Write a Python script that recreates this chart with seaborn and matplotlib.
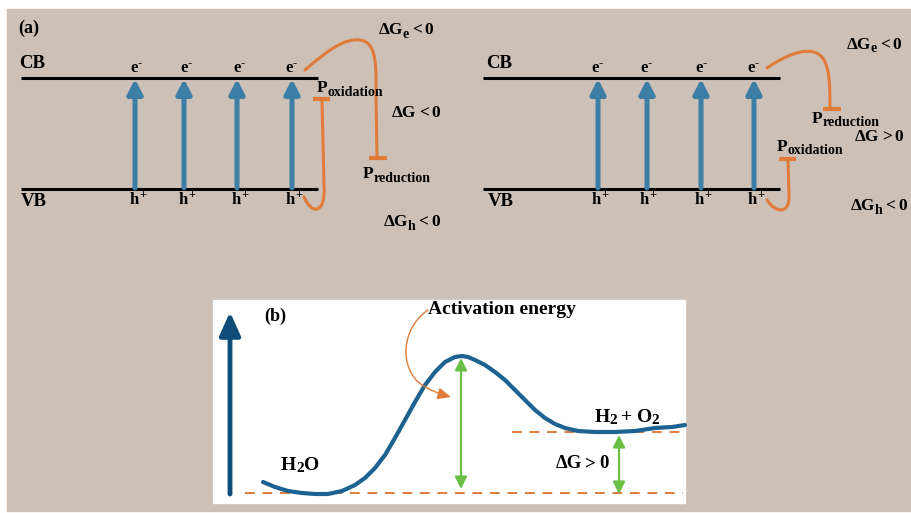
import numpy as np
import pandas as pd
import matplotlib
matplotlib.use("Agg")
import matplotlib.pyplot as plt
from matplotlib.patches import Rectangle, PathPatch, FancyArrowPatch
from matplotlib.path import Path
import seaborn as sns

# ---- values (pixel units, y down) ----
band_y = {"CB": 78, "VB": 189}
left_band_x = (21, 318)
right_band_x = (483, 780)
left_arrow_x = [135, 184, 237, 292]
right_arrow_x = [598, 647, 701, 754]
left_elec_x = [136, 186, 239, 291]
right_elec_x = [597, 646, 701, 753]
left_hole_x = [138, 187, 240, 294]
right_hole_x = [600, 648, 703, 756]

# energy profile of panel (b)
curve_x = [263, 275, 288, 302, 315, 328, 342, 355, 365, 375, 385, 395, 405,
           415, 425, 435, 445, 455, 462, 468, 475, 485, 495, 505, 515, 525,
           535, 545, 555, 565, 578, 595, 615, 635, 655, 672, 685]
curve_y = [482, 487, 491, 493, 494, 494, 491, 485, 478, 468, 455, 438, 420,
           402, 385, 372, 362, 357, 356, 357, 360, 365, 372, 380, 390, 400,
           410, 418, 424, 428, 431, 432, 432, 431, 428, 427, 425]
baseline_y = 493
product_y = 432
peak_x = 461

BG = "#cdc0b6"
ORANGE = "#e07b39"
BLUE = "#3d7ea6"
DARK = "#1c6391"
GREEN = "#6cbf45"

sns.set_theme(style="white")
plt.rcParams["font.family"] = ["Liberation Serif", "DejaVu Serif"]
plt.rcParams["font.weight"] = "bold"

fig = plt.figure(figsize=(9.12, 5.13), dpi=100)
ax = fig.add_axes([0, 0, 1, 1])
ax.set_xlim(0, 912)
ax.set_ylim(513, 0)
ax.axis("off")
fig.patch.set_facecolor("white")
renderer = fig.canvas.get_renderer()

ax.add_patch(Rectangle((7, 9), 905, 502, color=BG, zorder=0))
ax.add_patch(Rectangle((213, 300), 472, 203, color="white", zorder=1))


def rich(x, y, parts, ha="center"):
    # parts: (string, fontsize, dy down in px, dx gap before in px)
    arts, steps = [], []
    for p in parts:
        s, size, dy = p[:3]
        dx = p[3] if len(p) > 3 else 0
        t = ax.text(0, y + dy, s, fontsize=size, fontweight="bold", color="black",
                    ha="left", va="center", zorder=5)
        arts.append(t)
        steps.append((dx, t.get_window_extent(renderer).width))
    total = sum(dx + w for dx, w in steps)
    cur = x - total / 2 if ha == "center" else x
    for t, (dx, w) in zip(arts, steps):
        cur += dx
        t.set_x(cur)
        cur += w


def band_panel(bx, arrow_x, elec_x, hole_x, lab_x):
    for name, y in band_y.items():
        ax.hlines(y, bx[0], bx[1], color="black", lw=2.2, zorder=3)
    rich(lab_x, 64, [("CB", 13.5, 0)], ha="left")
    rich(lab_x + 2, 201, [("VB", 13.5, 0)], ha="left")
    for x in arrow_x:
        ax.annotate("", xy=(x, band_y["CB"] + 1), xytext=(x, band_y["VB"] - 1),
                    arrowprops=dict(arrowstyle="-|>,head_width=0.32,head_length=0.62",
                                    color=BLUE, lw=3.6, mutation_scale=14,
                                    shrinkA=0, shrinkB=0), zorder=4)
    for x in elec_x:
        rich(x, 68, [("e", 12, 0), ("-", 9, -5)])
    for x in hole_x:
        rich(x, 200, [("h", 12, 0), ("+", 9, -5)])


def orange_path(verts, codes):
    ax.add_patch(PathPatch(Path(verts, codes), fill=False, ec=ORANGE, lw=2.2,
                           capstyle="round", zorder=4))


def dg(x, y, sub, sign, size=12.5):
    parts = [("ΔG", size, 0)]
    if sub:
        parts.append((sub, size - 2.5, 4, -0.5))
    parts.append((sign, size, 0, 3))
    parts.append(("0", size, 0, 3))
    rich(x, y, parts)


M, L, C = Path.MOVETO, Path.LINETO, Path.CURVE4

# ---- panel (a) left ----
band_panel(left_band_x, left_arrow_x, left_elec_x, left_hole_x, 19)
rich(18, 28, [("(a)", 13, 0)], ha="left")
orange_path([(305, 70), (328, 50), (345, 38), (360, 40), (378, 42), (376, 70),
             (376, 95), (377, 158)], [M, C, C, C, C, C, C, L])
ax.hlines(158, 369, 387, color=ORANGE, lw=3, zorder=4)
orange_path([(322, 100), (324, 185), (326, 212), (313, 217), (304, 197)],
            [M, L, C, C, C])
ax.hlines(99, 313, 330, color=ORANGE, lw=3, zorder=4)
dg(406, 30, "e", "<")
rich(350, 88, [("P", 12.5, 0), ("oxidation", 10, 4)])
dg(416, 113, "", "<")
rich(397, 174, [("P", 12.5, 0), ("reduction", 10, 4)])
dg(412, 222, "h", "<")

# ---- panel (a) right ----
band_panel(right_band_x, right_arrow_x, right_elec_x, right_hole_x, 486)
orange_path([(767, 68), (790, 52), (815, 44), (824, 60), (830, 70), (830, 90),
             (830, 109)], [M, C, C, C, C, C, C])
ax.hlines(109, 823, 841, color=ORANGE, lw=3, zorder=4)
orange_path([(788, 160), (789, 195), (790, 214), (776, 214), (767, 200)],
            [M, L, C, C, C])
ax.hlines(159, 779, 796, color=ORANGE, lw=3, zorder=4)
dg(874, 45, "e", "<")
rich(846, 119, [("P", 12.5, 0), ("reduction", 10, 4)])
dg(879, 137, "", ">")
rich(810, 147, [("P", 12.5, 0), ("oxidation", 10, 4)])
dg(879, 206, "h", "<")

# ---- panel (b) ----
ax.annotate("", xy=(230, 312), xytext=(230, 494),
            arrowprops=dict(arrowstyle="-|>,head_width=0.45,head_length=1.0",
                            color="#0f4d78", lw=3.5, mutation_scale=14,
                            shrinkA=0, shrinkB=0), zorder=4)
rich(275, 316, [("(b)", 13, 0)])

ax.hlines(baseline_y, 245, 683, color=ORANGE, lw=1.4, ls=(0, (5, 4)), zorder=2)
ax.hlines(product_y, 512, 683, color=ORANGE, lw=1.4, ls=(0, (5, 4)), zorder=2)

prof = pd.DataFrame({"x": curve_x, "y": curve_y})
sns.lineplot(data=prof, x="x", y="y", ax=ax, color=DARK, lw=3, sort=False,
             zorder=3)
ax.set_xlim(0, 912)
ax.set_ylim(513, 0)
ax.axis("off")

for x, y0, y1 in [(peak_x, 358, 489), (619, 435, 494)]:
    ax.annotate("", xy=(x, y0), xytext=(x, y1),
                arrowprops=dict(arrowstyle="<|-|>,head_width=0.3,head_length=0.6",
                                color=GREEN, lw=1.6, mutation_scale=12,
                                shrinkA=0, shrinkB=0), zorder=4)

ax.add_patch(FancyArrowPatch(path=Path([(428, 310), (404, 326), (398, 362), (418, 382),
                                        (428, 390), (440, 394), (451, 397)],
                                       [M, C, C, C, C, C, C]),
                             arrowstyle="-|>,head_width=0.35,head_length=0.8",
                             mutation_scale=10, color=ORANGE, lw=1, zorder=4))

rich(502, 309, [("Activation energy", 14, 0)])
rich(300, 466, [("H", 14, 0), ("2", 11, 3), ("O", 14, 0)])
rich(627, 418, [("H", 14, 0), ("2", 11, 3), ("+", 14, 0, 4), ("O", 14, 0, 4),
                ("2", 11, 3)])
dg(582, 464, "", ">", size=13.5)

fig.savefig("out.png", dpi=100)
